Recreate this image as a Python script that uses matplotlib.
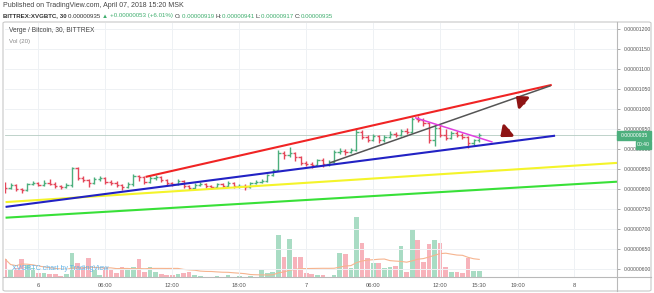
import numpy as np
import pandas as pd
import matplotlib
matplotlib.use('Agg')
import matplotlib.pyplot as plt
from matplotlib.patches import Rectangle, FancyBboxPatch

plt.rcParams['font.family'] = ['Liberation Sans', 'DejaVu Sans']

W, H = 654, 293

# 30 min bars, hours counted from 6 Apr 00:00 (first bar 5 Apr 21:00), prices in satoshi
start_hour = -3.0
closes = [803, 811, 801, 798, 813, 816, 811, 816, 814, 808, 806, 811, 853, 828, 823, 816,
          826, 828, 818, 816, 811, 806, 813, 833, 831, 818, 828, 830, 823, 816, 813, 821,
          808, 803, 811, 813, 808, 806, 813, 808, 816, 808, 809, 806, 816, 818, 821, 836,
          848, 891, 885, 890, 881, 866, 863, 861, 873, 863, 868, 893, 896, 894, 898, 943,
          931, 923, 933, 923, 931, 938, 936, 946, 943, 976, 973, 966, 923, 953, 935, 928,
          941, 935, 931, 916, 923, 935]
highs = [818, 815, 813, 803, 816, 821, 818, 823, 826, 818, 811, 816, 856, 856, 833, 826,
         831, 833, 831, 823, 821, 813, 818, 838, 836, 833, 833, 836, 833, 826, 818, 826,
         823, 811, 816, 818, 816, 811, 816, 816, 821, 818, 813, 813, 818, 823, 826, 838,
         851, 898, 896, 906, 893, 883, 871, 868, 876, 878, 873, 898, 903, 901, 903, 953,
         948, 936, 938, 936, 936, 946, 943, 951, 953, 981, 983, 978, 968, 961, 961, 951,
         946, 946, 941, 933, 926, 941]
lows = [791, 800, 796, 790, 796, 810, 808, 809, 811, 803, 801, 803, 806, 823, 818, 806,
        813, 821, 813, 811, 806, 798, 803, 808, 821, 813, 816, 823, 818, 811, 808, 811,
        803, 798, 801, 808, 803, 801, 803, 803, 806, 803, 803, 798, 803, 813, 816, 818,
        833, 846, 876, 881, 871, 861, 858, 853, 858, 856, 858, 866, 888, 886, 890, 896,
        926, 918, 921, 916, 918, 928, 931, 933, 938, 941, 968, 958, 916, 908, 931, 923,
        926, 931, 926, 903, 911, 918]
volumes = [18, 7, 9, 18, 12, 9, 4, 4, 3, 3, 1, 3, 24, 14, 9, 19,
           7, 2, 9, 7, 4, 10, 9, 10, 18, 5, 10, 5, 3, 2, 2, 3,
           4, 5, 2, 1, 0.5, 0.5, 1, 0.5, 2, 0.5, 1, 0.5, 1, 0.5, 7, 4,
           5, 42, 20, 38, 20, 20, 4, 3, 2, 2, 0.5, 2, 24, 23, 9, 60,
           34, 19, 14, 14, 9, 10, 11, 31, 5, 47, 37, 15, 33, 37, 34, 10,
           5, 5, 4, 19, 6, 6]

price_ticks = list(range(600, 1201, 50))
x_ticks = [0, 6, 12, 18, 24, 30, 36, 39.5, 43, 48]
x_labels = ['6', '06:00', '12:00', '18:00', '7', '06:00', '12:00', '15:30', '19:00', '8']

# drawn lines: (hour0, price0, hour1, price1)
trend_red = (9.6, 831, 46.0, 1061)
trend_gray = (26.1, 866, 45.9, 1059)
trend_magenta = (33.75, 979, 40.7, 918)
trend_blue = (-2.95, 756, 46.3, 934)
trend_yellow = (-2.95, 768, 51.85, 866)
trend_green = (-2.95, 729, 51.85, 819)

hours = start_hour + 0.5 * np.arange(len(closes))
opens = [808] + closes[:-1]
up = np.array(closes) >= np.array(opens)
bar_cols = np.where(up, '#4caf7d', '#e4475a')
vol_cols = np.where(up, '#a9dcc4', '#f7b3bb')
vol_ma = pd.Series(volumes).rolling(20, min_periods=1).mean()

fig = plt.figure(figsize=(W / 100, H / 100), dpi=100)
fig.patch.set_facecolor('white')
rect = [5 / W, 1 - 277 / H, (617 - 5) / W, (277 - 23) / H]

# volume underneath
axv = fig.add_axes(rect)
axv.bar(hours, volumes, width=0.42, color=vol_cols, zorder=1)
axv.plot(hours, vol_ma, color='#f6b48f', lw=0.8, zorder=2)
axv.set_xlim(-3.0, 51.85)
axv.set_ylim(0, 254)
axv.axis('off')

ax = fig.add_axes(rect)
ax.set_facecolor('none')
ax.set_xlim(-3.0, 51.85)
ax.set_ylim(580.75, 1215.75)
for t in price_ticks:
    ax.axhline(t, color='#eef1f4', lw=0.7, zorder=0)
for t in x_ticks:
    if t != 39.5:
        ax.axvline(t, color='#eef1f4', lw=0.7, zorder=0)

ax.axhline(935, color='#b4cbc1', lw=0.6, zorder=1)

ax.vlines(hours, lows, highs, colors=bar_cols, lw=1.0, zorder=3)
ax.hlines(opens, hours - 0.2, hours, colors=bar_cols, lw=1.0, zorder=3)
ax.hlines(closes, hours, hours + 0.2, colors=bar_cols, lw=1.0, zorder=3)

for ln, c, w in [(trend_yellow, '#f4f42a', 1.5), (trend_green, '#38e038', 1.5),
                 (trend_blue, '#2222c4', 1.5), (trend_red, '#f02424', 1.5),
                 (trend_gray, '#555555', 1.1), (trend_magenta, '#e040e0', 1.1)]:
    ax.plot([ln[0], ln[2]], [ln[1], ln[3]], color=c, lw=w, zorder=4, solid_capstyle='butt')

arrow = dict(arrowstyle='-|>,head_width=0.45,head_length=0.55', color='#8e1414', lw=2.2)
ax.annotate('', xy=(42.6, 1038), xytext=(43.7, 1011), arrowprops=arrow, zorder=5)
ax.annotate('', xy=(41.2, 926), xytext=(42.3, 952), arrowprops=arrow, zorder=5)

ax.yaxis.tick_right()
ax.set_yticks(price_ticks)
ax.set_yticklabels(['%.8f' % (v / 1e8) for v in price_ticks])
ax.set_xticks(x_ticks)
ax.set_xticklabels(x_labels)
ax.tick_params(axis='y', length=2.5, width=0.6, color='#9a9a9a', labelsize=3.7,
               labelcolor='#555555', pad=2)
ax.tick_params(axis='x', length=0, labelsize=4.2, labelcolor='#555555', pad=4)
for s in ax.spines.values():
    s.set_visible(False)

# chart frame and axis separators
fig.add_artist(FancyBboxPatch((3 / W, 1 - 291 / H), 648 / W, 269 / H,
                              boxstyle='round,pad=0,rounding_size=0.004',
                              transform=fig.transFigure, fill=False,
                              ec='#c9c9c9', lw=0.8))
fig.add_artist(plt.Line2D([617 / W, 617 / W], [1 - 291 / H, 1 - 22 / H],
                          transform=fig.transFigure, color='#b9b9b9', lw=0.8))
fig.add_artist(plt.Line2D([3 / W, 651 / W], [1 - 277 / H, 1 - 277 / H],
                          transform=fig.transFigure, color='#b9b9b9', lw=0.8))

# last price labels
fig.add_artist(Rectangle((617 / W, 1 - 140 / H), 34 / W, 9 / H,
                         transform=fig.transFigure, color='#4caf7d', zorder=10))
fig.text(634 / W, 1 - 135.5 / H, '0.00000935', fontsize=3.7, color='white',
         ha='center', va='center', zorder=11)
fig.add_artist(Rectangle((636 / W, 1 - 149 / H), 15 / W, 8 / H,
                         transform=fig.transFigure, color='#4caf7d', zorder=10))
fig.text(643.5 / W, 1 - 145 / H, '00:40', fontsize=3.7, color='white',
         ha='center', va='center', zorder=11)


def px_text(x, y, s, **kw):
    return fig.text(x / W, 1 - y / H, s, va='center', ha='left', **kw)


# header, pieces laid out one after another
px_text(3, 5.5, 'Published on TradingView.com, April 07, 2018 15:20 MSK', fontsize=5.0, color='#444444')
green = '#3fae6e'
dark = '#333333'
pieces = [('BITTREX:XVGBTC, 30 ', dark, 'bold'), ('0.00000935 ', dark, 'normal'),
          ('\u25b2 ', green, 'normal'), ('+0.00000053 (+6.01%) ', green, 'normal'),
          ('O:', dark, 'normal'), ('0.00000919 ', green, 'normal'),
          ('H:', dark, 'normal'), ('0.00000941 ', green, 'normal'),
          ('L:', dark, 'normal'), ('0.00000917 ', green, 'normal'),
          ('C:', dark, 'normal'), ('0.00000935', green, 'normal')]
renderer = fig.canvas.get_renderer()
x = 3.0
for s, c, fw in pieces:
    t = px_text(x, 16, s, fontsize=4.4, color=c, fontweight=fw)
    x += t.get_window_extent(renderer).width

px_text(9, 31, 'Verge / Bitcoin, 30, BITTREX', fontsize=4.8, color='#444444')
px_text(9, 41, 'Vol (20)', fontsize=4.4, color='#888888')
px_text(12, 269, 'XVGBTC chart by TradingView', fontsize=5.0, color='#62b4e8')

fig.savefig('out.png', dpi=100)
